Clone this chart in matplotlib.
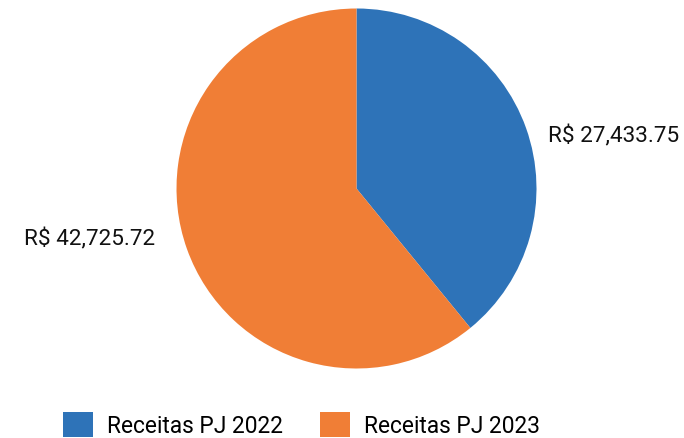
import matplotlib
matplotlib.use("Agg")
import matplotlib.pyplot as plt
from matplotlib.patches import Patch

categories = ["Receitas PJ 2022", "Receitas PJ 2023"]
values = [27433.75, 42725.72]
colors = ["#2E73B8", "#F07E36"]

plt.rcParams['font.family'] = ['Roboto', 'DejaVu Sans']

W, H = 684, 439
fig = plt.figure(figsize=(W / 100, H / 100), dpi=100)
cx, cy, r = 356.5, 189.5, 180
ax = fig.add_axes([(cx - r) / W, (H - cy - r) / H, 2 * r / W, 2 * r / H])

wedges, _ = ax.pie(values, colors=colors, startangle=90, counterclock=False,
                   radius=1.0, wedgeprops=dict(linewidth=0))
ax.set_xlim(-1, 1)
ax.set_ylim(-1, 1)
ax.set_aspect('equal')
ax.axis('off')

def fmt(v):
    return "R$ " + f"{v:,.2f}"

# value labels beside each slice
ax.text(1.066, 0.294, fmt(values[0]), ha='left', va='center', fontsize=16.2,
        color='#111111', clip_on=False)
ax.text(-1.116, -0.28, fmt(values[1]), ha='right', va='center', fontsize=16.2,
        color='#111111', clip_on=False)

handles = [Patch(facecolor=c, edgecolor='none') for c in colors]
fig.legend(handles, categories, loc='lower center', bbox_to_anchor=(0.441, -0.027),
           ncol=2, frameon=False, fontsize=16.4, handlelength=1.32, handleheight=1.36,
           handletextpad=0.61, columnspacing=1.62, borderpad=0.05)

fig.savefig("out.png", dpi=100)
